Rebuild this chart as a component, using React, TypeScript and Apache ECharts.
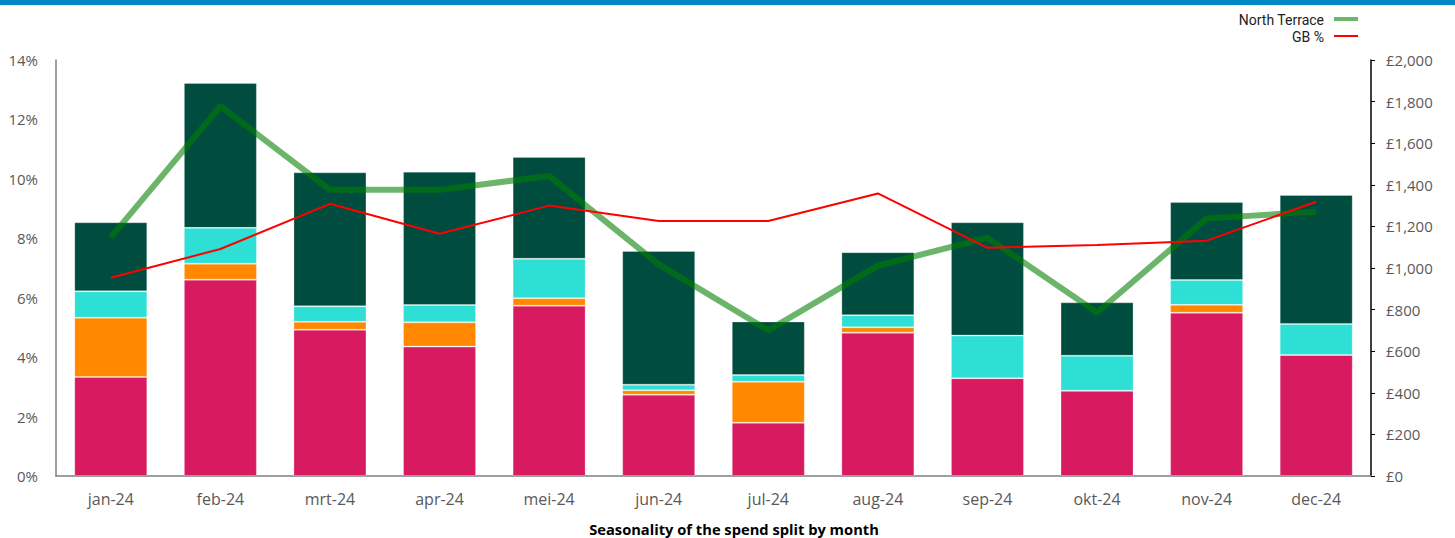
import React, { useEffect, useRef } from "react";
import * as echarts from "echarts";

const months = ["jan-24", "feb-24", "mrt-24", "apr-24", "mei-24", "jun-24", "jul-24", "aug-24", "sep-24", "okt-24", "nov-24", "dec-24"];

// stacked spend (£), bottom to top
const spendPink = [476, 944, 703, 622, 819, 391, 256, 689, 470, 410, 785, 582];
const spendOrange = [285, 77, 38, 117, 36, 21, 197, 26, 0, 0, 38, 0];
const spendCyan = [127, 172, 75, 83, 189, 27, 32, 58, 205, 168, 119, 149];
const spendDark = [332, 697, 644, 641, 490, 643, 258, 303, 545, 257, 375, 620];

// seasonality (%)
const northTerrace = [8.03, 12.45, 9.63, 9.63, 10.1, 7.12, 4.9, 7.08, 8.02, 5.5, 8.67, 8.89];
const gbPct = [6.67, 7.64, 9.16, 8.15, 9.1, 8.58, 8.58, 9.51, 7.68, 7.77, 7.92, 9.23];

const leftTicks = { min: 0, max: 14, interval: 2 };
const rightTicks = { min: 0, max: 2000, interval: 200 };

const axisFont = "'Open Sans', 'Noto Sans', sans-serif";

export default function App() {
  const ref = useRef<HTMLDivElement>(null);

  useEffect(() => {
    document.body.style.margin = "0";
    if (!ref.current) return;
    const chart = echarts.init(ref.current, null, { renderer: "svg" });

    const barSeries = (name: string, data: number[], color: string) => ({
      name,
      type: "bar",
      stack: "spend",
      yAxisIndex: 1,
      barWidth: 73,
      data,
      itemStyle: { color, borderColor: "rgba(255,255,255,0.25)", borderWidth: 1 },
      z: 2,
    });

    chart.setOption({
      animation: false,
      backgroundColor: "#ffffff",
      graphic: [
        { type: "rect", left: 0, top: 0, shape: { width: 1455, height: 5 }, style: { fill: "#0088c4" } },
        { type: "rect", left: 1334, top: 17, shape: { width: 24, height: 4 }, style: { fill: "#6ab96a" } },
        { type: "rect", left: 1334, top: 35, shape: { width: 24, height: 2 }, style: { fill: "#ff0000" } },
        {
          type: "text",
          x: 734,
          y: 529,
          style: {
            text: "Seasonality of the spend split by month",
            font: "bold 14.7px 'Open Sans', Roboto, sans-serif",
            fill: "#000000",
            align: "center",
            verticalAlign: "middle",
          },
        },
      ],
      legend: {
        orient: "vertical",
        right: 97,
        top: 8,
        align: "right",
        icon: "rect",
        itemWidth: 24,
        itemHeight: 14,
        itemGap: 3,
        itemStyle: { opacity: 0 },
        data: ["North Terrace", "GB %"],
        textStyle: { color: "#222222", fontSize: 14, fontFamily: "Roboto, sans-serif" },
      },
      grid: { left: 56, right: 84, top: 60, bottom: 62, containLabel: false },
      xAxis: {
        type: "category",
        data: months,
        axisTick: { show: false },
        axisLine: { lineStyle: { color: "#7f7f7f", width: 1.5 } },
        axisLabel: { color: "#595959", fontSize: 16, fontFamily: axisFont, margin: 15 },
      },
      yAxis: [
        {
          type: "value",
          ...leftTicks,
          position: "left",
          splitLine: { show: false },
          axisTick: { show: false },
          axisLine: { show: true, lineStyle: { color: "#7f7f7f", width: 1.5 } },
          axisLabel: { color: "#595959", fontSize: 15, fontFamily: axisFont, margin: 18, formatter: "{value}%" },
        },
        {
          type: "value",
          ...rightTicks,
          position: "right",
          splitLine: { show: false },
          axisTick: { show: true, inside: false, length: 4, lineStyle: { color: "#000000" } },
          axisLine: { show: true, lineStyle: { color: "#000000", width: 1.5 } },
          axisLabel: {
            color: "#595959",
            fontSize: 15,
            fontFamily: axisFont,
            margin: 15,
            formatter: (v: number) => "£" + v.toLocaleString("en-GB"),
          },
        },
      ],
      series: [
        barSeries("Segment 1", spendPink, "#d81b60"),
        barSeries("Segment 2", spendOrange, "#ff8800"),
        barSeries("Segment 3", spendCyan, "#2ddfd5"),
        barSeries("Segment 4", spendDark, "#004d40"),
        {
          name: "North Terrace",
          type: "line",
          yAxisIndex: 0,
          data: northTerrace,
          symbol: "none",
          lineStyle: { color: "#008000", width: 6, opacity: 0.58 },
          itemStyle: { color: "#6ab96a" },
          z: 5,
        },
        {
          name: "GB %",
          type: "line",
          yAxisIndex: 0,
          data: gbPct,
          symbol: "none",
          lineStyle: { color: "#ff0000", width: 2 },
          itemStyle: { color: "#ff0000" },
          z: 6,
        },
      ],
    });

    return () => chart.dispose();
  }, []);

  return <div ref={ref} style={{ width: 1455, height: 538 }} />;
}
